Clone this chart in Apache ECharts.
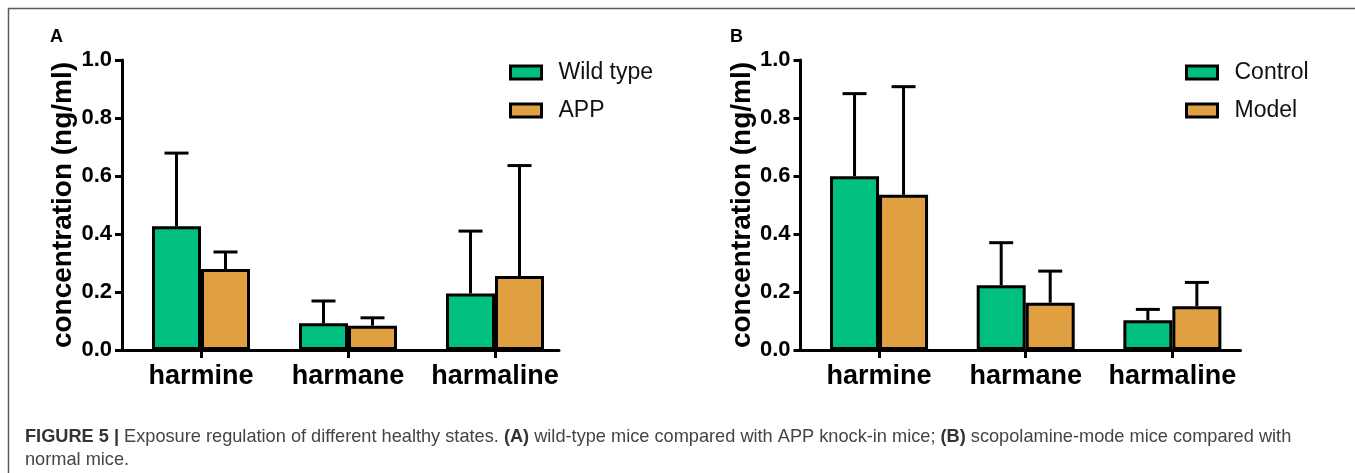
<!DOCTYPE html>
<html>
<head>
<meta charset="utf-8">
<script src="https://cdn.jsdelivr.net/npm/echarts@6/dist/echarts.min.js"></script>
<style>
html,body{margin:0;padding:0;background:#fff;}
#chart{width:1355px;height:473px;}
</style>
</head>
<body>
<div id="chart"></div>
<script>
// ---------- data ----------
const categories = ['harmine', 'harmane', 'harmaline'];
const yTicks = [0, 0.2, 0.4, 0.6, 0.8, 1.0];

// Panel A
const seriesNamesA = ['Wild type', 'APP'];
const wildTypeMean = [0.427, 0.092, 0.195];
const wildTypeSD   = [0.252, 0.077, 0.215];
const appMean      = [0.279, 0.084, 0.255];
const appSD        = [0.059, 0.027, 0.381];

// Panel B
const seriesNamesB = ['Control', 'Model'];
const controlMean = [0.599, 0.223, 0.103];
const controlSD   = [0.285, 0.147, 0.037];
const modelMean   = [0.535, 0.163, 0.151];
const modelSD     = [0.373, 0.109, 0.082];

const yAxisName = 'concentration (ng/ml)';
const panelLabels = ['A', 'B'];
const captionText = '{b|FIGURE 5 |} Exposure regulation of different healthy states. {b|(A)} wild-type mice compared with APP knock-in mice; {b|(B)} scopolamine-mode mice compared with\nnormal mice.';

// ---------- styles ----------
const GREEN = '#00bf80';
const ORANGE = '#e0a042';
const FONT = '"Liberation Sans", Arial, Helvetica, sans-serif';
const BAR_W = 49;

const chart = echarts.init(document.getElementById('chart'), null, {renderer: 'canvas'});

function axesGrid(left, width) {
  return {left: left, width: width, top: 60, height: 290, containLabel: false};
}

const grids = [
  axesGrid(122, 437),     // A axis lines
  axesGrid(127.5, 441),   // A bars
  axesGrid(800.5, 440),   // B axis lines
  axesGrid(805.7, 440)    // B bars
];

function lineXAxis(gi) {
  return {
    type: 'value', gridIndex: gi, min: 0, max: 1,
    axisLine: {show: true, onZero: false, lineStyle: {color: '#000', width: 3}},
    axisTick: {show: false}, axisLabel: {show: false}, splitLine: {show: false}
  };
}
function catXAxis(gi) {
  return {
    type: 'category', gridIndex: gi, data: categories,
    axisLine: {show: false},
    axisTick: {show: true, alignWithLabel: true, interval: 0, length: 8, lineStyle: {color: '#000', width: 3}},
    axisLabel: {show: true, interval: 0, hideOverlap: false, margin: 13, color: '#000', fontFamily: FONT, fontWeight: 'bold', fontSize: 27},
    splitLine: {show: false}
  };
}
function visYAxis(gi) {
  return {
    type: 'value', gridIndex: gi, min: 0, max: 1, interval: 0.2,
    name: yAxisName, nameLocation: 'middle', nameGap: 44,
    nameTextStyle: {color: '#000', fontFamily: FONT, fontWeight: 'bold', fontSize: 28},
    axisLine: {show: true, lineStyle: {color: '#000', width: 3}},
    axisTick: {show: true, length: 7, lineStyle: {color: '#000', width: 3}},
    axisLabel: {show: true, margin: 10, color: '#000', fontFamily: FONT, fontWeight: 'bold', fontSize: 22,
      formatter: v => v.toFixed(1)},
    splitLine: {show: false}
  };
}
function hidYAxis(gi) {
  return {type: 'value', gridIndex: gi, min: 0, max: 1, show: false, splitLine: {show: false}};
}

function barSeries(name, color, means, xi, yi) {
  return {
    type: 'bar', name: name, xAxisIndex: xi, yAxisIndex: yi,
    data: means, barWidth: BAR_W, barGap: '0%',
    itemStyle: {color: color, borderColor: '#000', borderWidth: 3},
    z: 2, silent: true, animation: false
  };
}
function errSeries(means, sds, xi, yi, side) {
  return {
    type: 'custom', xAxisIndex: xi, yAxisIndex: yi, z: 3, silent: true, animation: false,
    data: means.map((m, i) => [i, m, sds[i]]),
    renderItem: function (params, api) {
      const idx = api.value(0), m = api.value(1), sd = api.value(2);
      const base = api.coord([idx, m]);
      const top = api.coord([idx, m + sd]);
      const x = base[0] + side * BAR_W / 2;
      const st = {stroke: '#000', lineWidth: 3, fill: null};
      return {
        type: 'group',
        children: [
          {type: 'line', shape: {x1: x, y1: base[1], x2: x, y2: top[1]}, style: st},
          {type: 'line', shape: {x1: x - 12, y1: top[1], x2: x + 12, y2: top[1]}, style: st}
        ]
      };
    }
  };
}

function legend(names, left) {
  return {
    data: names, orient: 'vertical', left: left, top: 61, padding: 0,
    itemWidth: 31, itemHeight: 13, itemGap: 15, icon: 'rect',
    selectedMode: false,
    itemStyle: {borderColor: '#000', borderWidth: 3},
    textStyle: {color: '#111', fontFamily: FONT, fontSize: 23, padding: [0, 0, 0, 12]}
  };
}

const option = {
  backgroundColor: '#fff',
  animation: false,
  grid: grids,
  xAxis: [lineXAxis(0), catXAxis(1), lineXAxis(2), catXAxis(3)],
  yAxis: [visYAxis(0), hidYAxis(1), visYAxis(2), hidYAxis(3)],
  legend: [legend(seriesNamesA, 509), legend(seriesNamesB, 1185)],
  series: [
    barSeries(seriesNamesA[0], GREEN, wildTypeMean, 1, 1),
    barSeries(seriesNamesA[1], ORANGE, appMean, 1, 1),
    errSeries(wildTypeMean, wildTypeSD, 1, 1, -1),
    errSeries(appMean, appSD, 1, 1, 1),
    barSeries(seriesNamesB[0], GREEN, controlMean, 3, 3),
    barSeries(seriesNamesB[1], ORANGE, modelMean, 3, 3),
    errSeries(controlMean, controlSD, 3, 3, -1),
    errSeries(modelMean, modelSD, 3, 3, 1)
  ],
  graphic: [
    {type: 'line', shape: {x1: 8, y1: 8.5, x2: 1355, y2: 8.5}, style: {stroke: '#5a5a5a', lineWidth: 1.5}, silent: true},
    {type: 'line', shape: {x1: 8.5, y1: 8, x2: 8.5, y2: 473}, style: {stroke: '#5a5a5a', lineWidth: 1.5}, silent: true},
    {type: 'text', left: 50, top: 28, style: {text: panelLabels[0], font: 'bold 18px ' + FONT, fill: '#000'}, silent: true},
    {type: 'text', left: 730, top: 28, style: {text: panelLabels[1], font: 'bold 18px ' + FONT, fill: '#000'}, silent: true},
    {type: 'text', left: 25, top: 425, silent: true,
      style: {text: captionText, font: '18.2px ' + FONT, fill: '#444', lineHeight: 23,
        rich: {b: {fontWeight: 'bold', fontSize: 18.2, fontFamily: FONT, fill: '#333', lineHeight: 23}}}}
  ]
};
chart.setOption(option);
</script>
</body>
</html>
